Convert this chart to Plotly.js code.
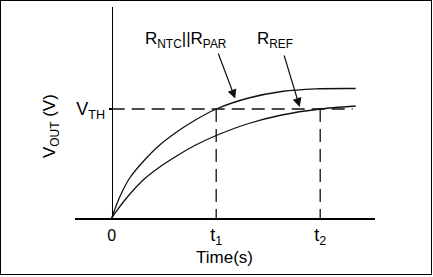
<!DOCTYPE html>
<html><head><meta charset="utf-8">
<script src="https://cdn.plot.ly/plotly-3.0.1.min.js"></script>
<style>
html,body{margin:0;padding:0;background:#fff;}
#wrap{position:relative;width:433px;height:277px;}
#chart{position:absolute;left:0;top:0;width:433px;height:277px;}
#frame{position:absolute;left:0;top:0;width:432px;height:275px;box-sizing:border-box;border:1.5px solid #000;pointer-events:none;}
</style></head><body>
<div id="wrap"><div id="chart"></div><div id="frame"></div></div>
<script>
// Values (arbitrary time / voltage units)
const timeUpper = [0, 0.4, 0.8, 1.8, 3.2, 4.8, 6.5, 8.2, 10.45, 13.7, 17.0, 20.4, 24.4];
const voutUpper = [0, 1.1, 2.1, 4.0, 5.7, 7.3, 8.6, 9.7, 10.9, 12.0, 12.65, 12.92, 12.95];
const timeLower = [0, 0.5, 1.2, 2.0, 3.2, 4.8, 6.5, 8.2, 10.45, 13.7, 17.0, 20.85, 24.4];
const voutLower = [0, 0.72, 1.65, 2.6, 3.85, 5.1, 6.2, 7.2, 8.25, 9.45, 10.3, 10.9, 11.2];
const t1 = 10.45;
const t2 = 20.85;
const vth = 10.9;
const vthLineEnd = 24.1;
const xTickVals = [0, t1, t2];
const xTickText = ['<span style="font-size:16px">0</span>', 't<sub>1</sub>', 't<sub>2</sub>'];
const yTickVals = [vth];
const yTickText = ['V<sub>TH</sub>'];
const labelNtc = 'R<sub>NTC</sub>||R<sub>PAR</sub>';
const labelRef = 'R<sub>REF</sub>';
const xTitle = 'Time(s)';
const yTitle = 'V<sub>OUT</sub> (V)';
// arrow pointers: [tipTime, tipVolt, tailTime, tailVolt]
const arrowNtc = [12.35, 11.95, 10.6, 16.6];
const arrowRef = [18.8, 11.1, 17.2, 16.4];

const ink = '#111';
const dashStyle = '13px,7px';
const traces = [
  {x: timeUpper, y: voutUpper, mode: 'lines', line: {color: ink, width: 1.3, shape: 'spline', smoothing: 0.7}},
  {x: timeLower, y: voutLower, mode: 'lines', line: {color: ink, width: 1.3, shape: 'spline', smoothing: 0.7}},
  {x: [0, vthLineEnd], y: [vth, vth], mode: 'lines', line: {color: ink, width: 1.3, dash: dashStyle}},
  {x: [t1, t1], y: [vth, 0], mode: 'lines', line: {color: ink, width: 1.3, dash: dashStyle}},
  {x: [t2, t2], y: [vth, 0], mode: 'lines', line: {color: ink, width: 1.3, dash: dashStyle}}
];

function arrow(a) {
  return {x: a[0], y: a[1], ax: a[2], ay: a[3], xref: 'x', yref: 'y', axref: 'x', ayref: 'y',
    text: '', showarrow: true, arrowhead: 2, arrowsize: 1.5, arrowwidth: 1.2, arrowcolor: ink, standoff: 0, startstandoff: 0};
}

const layout = {
  width: 433, height: 277,
  margin: {l: 75, r: 58, t: 7, b: 59, pad: 0},
  paper_bgcolor: '#fff', plot_bgcolor: '#fff',
  showlegend: false,
  font: {family: '"Liberation Sans", Arial, sans-serif', color: '#000', size: 18},
  xaxis: {range: [-3.67, 26.33], showgrid: false, zeroline: false, showline: true,
    linecolor: '#000', linewidth: 1.5, tickmode: 'array', tickvals: xTickVals, ticktext: xTickText,
    ticks: '', tickfont: {size: 18}, fixedrange: true},
  yaxis: {range: [0, 21.1], anchor: 'free', position: 0.1223, showgrid: false, zeroline: false,
    showline: true, linecolor: '#000', linewidth: 1.5, tickmode: 'array', tickvals: yTickVals,
    ticktext: yTickText, ticks: 'outside', ticklen: 3, tickwidth: 1.3, tickcolor: '#000',
    tickfont: {size: 18}, fixedrange: true},
  annotations: [
    {x: 7.43, y: 17.77, xref: 'x', yref: 'y', text: labelNtc, showarrow: false, font: {size: 17}, xanchor: 'center', yanchor: 'middle'},
    {x: 16.28, y: 17.77, xref: 'x', yref: 'y', text: labelRef, showarrow: false, font: {size: 17}, xanchor: 'center', yanchor: 'middle'},
    {x: 0.4967, y: -0.187, xref: 'paper', yref: 'paper', text: xTitle, showarrow: false, font: {size: 17}, xanchor: 'center', yanchor: 'middle'},
    {x: -0.08, y: 0.436, xref: 'paper', yref: 'paper', text: yTitle, textangle: -90, showarrow: false, font: {size: 17}, xanchor: 'center', yanchor: 'middle'},
    arrow(arrowNtc),
    arrow(arrowRef)
  ]
};

Plotly.newPlot('chart', traces, layout, {staticPlot: true, displayModeBar: false});
</script>
</body></html>
